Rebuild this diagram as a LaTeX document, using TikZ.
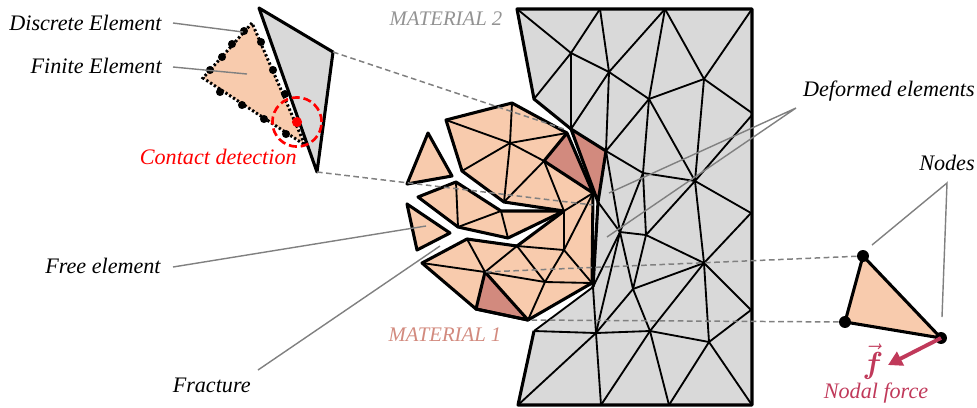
\documentclass[tikz,border=0pt]{standalone}
\usepackage{amsmath, amssymb}
\usepackage{fontspec}
\setmainfont{Liberation Serif}
\definecolor{meshgrey}{HTML}{D9D9D9}
\definecolor{elemorange}{HTML}{F8CBAD}
\definecolor{elemdark}{HTML}{D28A7E}
\definecolor{forcered}{HTML}{C0395A}
\definecolor{leadgrey}{HTML}{808080}
\usetikzlibrary{arrows.meta}

\begin{document}
\begin{tikzpicture}[
    x=0.02cm, y=-0.02cm,
    vertex/.style={circle, fill=black, inner sep=0pt, minimum size=4.6pt},
    bigvertex/.style={vertex, minimum size=6.8pt},
    thinedge/.style={line width=1.05pt, line join=round},
    thickedge/.style={line width=1.75pt, line join=round},
    leader/.style={draw=leadgrey, line width=0.8pt},
    link/.style={draw=leadgrey, line width=0.85pt, dash pattern=on 3.2pt off 2pt},
    matlabel/.style={font=\fontsize{11.8}{14}\selectfont\itshape},
    every node/.style={font=\fontsize{12.6}{14}\selectfont\itshape, inner sep=0pt}
  ]
  \useasboundingbox (0,0) rectangle (977,407);

  % --- Grey mesh (material 2) ---
  \coordinate (tl) at (517,9);
  \coordinate (t1) at (600,9);
  \coordinate (t2) at (665,9);
  \coordinate (tr) at (752,9);
  \coordinate (r1) at (752,113);
  \coordinate (r2) at (752,115);
  \coordinate (r3) at (751,213);
  \coordinate (r4) at (751,310);
  \coordinate (br) at (752,405);
  \coordinate (b2) at (669,405);
  \coordinate (b1) at (601,405);
  \coordinate (bl) at (518,405);
  \coordinate (lo) at (534,331);
  \coordinate (gap) at (593,287);
  \coordinate (tip) at (598,202);
  \coordinate (up) at (534,99);
  \coordinate (p1) at (571,53);
  \coordinate (p2) at (609,72);
  \coordinate (p3) at (649,99);
  \coordinate (p4) at (704,79);
  \coordinate (p5) at (571,129);
  \coordinate (p6) at (606,151);
  \coordinate (p7) at (643,173);
  \coordinate (p8) at (695,181);
  \coordinate (q1) at (620,232);
  \coordinate (q2) at (646,235);
  \coordinate (q3) at (704,263);
  \coordinate (q6) at (709,342);
  \coordinate (q7) at (650,331);
  \coordinate (q8) at (633,289);
  \coordinate (q9) at (596,333);

  \fill[meshgrey] (tl) -- (tr) -- (br) -- (bl) -- (lo) -- (gap) -- (tip) -- (p5) -- (up) -- cycle;
  \fill[elemdark] (p5) -- (p6) -- (tip) -- cycle;
  \foreach \a/\b in {tl/p1, t1/p1, t1/p2, t2/p2, t2/p3, t2/p4, tr/p4, p1/up, p1/p5, p1/p2, p2/p5,
      p2/p6, p2/p3, p3/p4, p3/p6, p3/p7, p3/p8, p4/r1, p4/p8, p8/r2, p6/p7, p7/p8,
      p6/q1, tip/q1, p7/q1, p7/q2, p8/q2, p8/q3, p8/r3, r3/q3, q1/q2, q2/q3, q2/q8, q1/q8,
      q3/r4, q3/q6, r4/q6, q3/q8, q3/q7, q8/q7, q8/q9, q7/q9, q1/q9, q1/gap, gap/q9,
      q7/q6, q6/b2, q6/br, q7/b1, q7/b2, q9/b1, q9/bl, q9/lo, lo/gap}
    \draw[thinedge] (\a) -- (\b);
  \draw[thickedge] (p5) -- (up) -- (tl) -- (tr) -- (br) -- (bl) -- (lo);
  \draw[thickedge] (p5) -- (p6) -- (tip) -- cycle;
  \draw[thickedge] (tip) -- (gap);

  % --- Orange fragments (material 1) ---
  \coordinate (a1) at (446,120);
  \coordinate (a2) at (512,103);
  \coordinate (a3) at (567,133);
  \coordinate (a4) at (510,143);
  \coordinate (a5) at (544,161);
  \coordinate (a6) at (462,171);
  \coordinate (a7) at (504,202);
  \coordinate (a8) at (593,193);
  \coordinate (a9) at (564,211);
  \coordinate (m1) at (418,197);
  \coordinate (m2) at (456,182);
  \coordinate (m3) at (458,227);
  \coordinate (m4) at (501,211);
  \coordinate (m5) at (508,238);
  \coordinate (c1) at (422,263);
  \coordinate (c2) at (467,239);
  \coordinate (c3) at (517,246);
  \coordinate (c4) at (564,250);
  \coordinate (c5) at (485,272);
  \coordinate (c6) at (545,282);
  \coordinate (c7) at (592,283);
  \coordinate (c8) at (528,320);
  \coordinate (c9) at (476,309);
  \coordinate (s1) at (428,133);
  \coordinate (s2) at (452,176);
  \coordinate (s3) at (407,184);
  \coordinate (f1) at (407,204);
  \coordinate (f2) at (450,233);
  \coordinate (f3) at (417,250);

  \fill[elemorange] (a1) -- (a2) -- (a3) -- (a8) -- (a9) -- (a7) -- (a6) -- cycle;
  \fill[elemorange] (m1) -- (m2) -- (m4) -- (a9) -- (m5) -- (m3) -- cycle;
  \fill[elemorange] (c1) -- (c2) -- (c3) -- (a9) -- (a8) -- (c7) -- (c8) -- (c9) -- cycle;
  \fill[elemorange] (s1) -- (s2) -- (s3) -- cycle;
  \fill[elemorange] (f1) -- (f2) -- (f3) -- cycle;
  \fill[elemdark] (a3) -- (a5) -- (a8) -- cycle;
  \fill[elemdark] (c5) -- (c9) -- (c8) -- cycle;

  \foreach \a/\b in {a1/a4, a2/a4, a3/a4, a4/a5, a4/a6, a4/a7, a5/a7, a5/a9, a9/a8,
      m2/m3, m3/m4, m4/m5, a9/c4, c4/a8, c2/c3, c3/c4, c1/c5, c2/c5, c3/c5, c3/c6,
      c4/c6, c4/c7, c5/c6, c6/c7, c6/c8}
    \draw[thinedge] (\a) -- (\b);
  \draw[thickedge] (a3) -- (a2) -- (a1) -- (a6) -- (a7) -- (a9);
  \draw[thickedge] (a3) -- (a8) -- (a5) -- cycle;
  \draw[thickedge] (m1) -- (m2) -- (m4) -- (a9) -- (m5) -- (m3) -- cycle;
  \draw[thickedge] (a9) -- (c3);
  \draw[thickedge] (c3) -- (c2) -- (c1) -- (c9) -- (c8) -- (c7) -- (a8);
  \draw[thickedge] (c5) -- (c9) -- (c8) -- cycle;
  \draw[thickedge] (s1) -- (s2) -- (s3) -- cycle;
  \draw[thickedge] (f1) -- (f2) -- (f3) -- cycle;

  % --- Contact inset ---
  \coordinate (g1) at (259,8);
  \coordinate (g2) at (333,52);
  \coordinate (g3) at (317,172);
  \coordinate (e1) at (252,23);
  \coordinate (e2) at (203,78);
  \coordinate (e3) at (305,145);

  \fill[meshgrey] (g1) -- (g2) -- (g3) -- cycle;
  \draw[thickedge] (g1) -- (g2) -- (g3) -- cycle;
  \fill[elemorange] (e1) -- (e2) -- (e3) -- cycle;
  \draw[line width=1.7pt, dash pattern=on 1.3pt off 1.3pt] (e1) -- (e2) -- (e3) -- cycle;
  \foreach \n/\x/\y in {d1/244/31, d2/232/44, d3/222/57, d4/210/70, d5/220/92, d6/242/105,
      d7/264/119, d8/286/134, d9/261/42, d10/273/70, d11/285/94}
    \node[vertex] (\n) at (\x,\y) {};
  \node[circle, fill=red, minimum size=5.8pt] (hit) at (297,122) {};
  \node[circle, draw=red, line width=1.5pt, dash pattern=on 4.6pt off 2.2pt, minimum size=28pt] (zone) at (297,122) {};

  % --- Force inset ---
  \coordinate (n1) at (863,256);
  \coordinate (n2) at (845,322);
  \coordinate (n3) at (941,338);
  \coordinate (fe) at (888,365);
  \fill[elemorange] (n1) -- (n2) -- (n3) -- cycle;
  \draw[thickedge] (n1) -- (n2) -- (n3) -- cycle;
  \node[bigvertex] (v1) at (n1) {};
  \node[bigvertex] (v2) at (n2) {};
  \node[bigvertex] (v3) at (n3) {};
  \draw[forcered, line width=2.2pt, -{Triangle[length=8pt, width=8.5pt]}] (v3.center) -- (fe);

  % --- Dashed links ---
  \coordinate (l1) at (567,130);
  \coordinate (l2) at (593,205);
  \draw[link] (g2) -- (l1);
  \draw[link] (g3) -- (l2);
  \draw[link] (v1) -- (c5);
  \draw[link] (v2) -- (c8);

  % --- Labels and leaders ---
  \node[anchor=east] (discrete) at (162,23) {Discrete Element};
  \node[anchor=east] (finite) at (162,66) {Finite Element};
  \node[anchor=east, text=red] (contact) at (297,157) {Contact detection};
  \node[matlabel, text=leadgrey!85] (mat2) at (446,19) {MATERIAL 2};
  \node[matlabel, text=elemdark] (mat1) at (445,335) {MATERIAL 1};
  \node[anchor=east] (free) at (161,266) {Free element};
  \node[anchor=east] (fracture) at (251,385) {Fracture};
  \node[anchor=east] (deformed) at (975,91) {Deformed elements};
  \node[anchor=east] (nodes) at (975,163) {Nodes};
  \node[text=forcered] (force) at (876,393) {Nodal force};
  \node[text=forcered, font=\fontsize{17}{17}\selectfont] (fvec) at (873,362) {$\vec{\boldsymbol{f}}$};

  \coordinate (s-disc) at (173,23);
  \coordinate (e-disc) at (243,32);
  \coordinate (s-fin) at (173,67);
  \coordinate (e-fin) at (247,74);
  \coordinate (s-free) at (173,267);
  \coordinate (e-free) at (426,226);
  \coordinate (s-frac) at (258,370);
  \coordinate (e-frac) at (440,246);
  \coordinate (s-def) at (796,108);
  \coordinate (e-def1) at (609,193);
  \coordinate (e-def2) at (607,237);
  \coordinate (s-nod) at (947,183);
  \coordinate (e-nod1) at (872,245);
  \coordinate (e-nod2) at (942,317);
  \draw[leader] (s-disc) -- (e-disc);
  \draw[leader] (s-fin) -- (e-fin);
  \draw[leader] (s-free) -- (e-free);
  \draw[leader] (s-frac) -- (e-frac);
  \draw[leader] (e-def1) -- (s-def) -- (e-def2);
  \draw[leader] (e-nod1) -- (s-nod) -- (e-nod2);
\end{tikzpicture}
\end{document}
